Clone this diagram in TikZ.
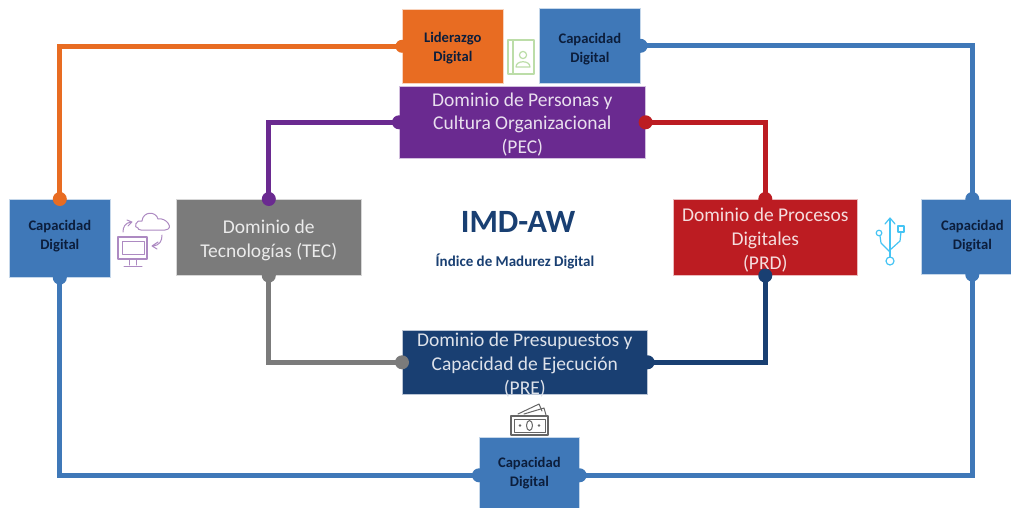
\documentclass[tikz,border=0pt]{standalone}
\usepackage{fontspec}
\setmainfont{Carlito}
\definecolor{cblue}{HTML}{3F78B8}
\definecolor{corange}{HTML}{E86C22}
\definecolor{cpurple}{HTML}{6A2A90}
\definecolor{cred}{HTML}{BC1C22}
\definecolor{cgray}{HTML}{7B7B7B}
\definecolor{cnavy}{HTML}{193F72}
\definecolor{ctext}{HTML}{0C1E3C}
\definecolor{cbook}{HTML}{BCDDA8}
\definecolor{cusb}{HTML}{45C4F4}
% #1 = downward shift of the text block, #2 = its lines; the block takes no height in the node
\newcommand\lines[2]{\raisebox{-#1pt}[0pt][0pt]{\begin{tabular}{@{}c@{}}#2\end{tabular}}}
\tikzset{
  pic box/.style={inner sep=0pt,anchor=north west,draw=white!70!#1,line width=.6pt,fill=#1},
  dombox/.style={pic box=#1,text=white!85!#1,font=\fontsize{19.5}{23.8}\selectfont},
  capbox/.style={pic box=#1,text=ctext,font=\fontsize{14.6}{18.3}\selectfont\bfseries},
  link/.style={line width=5pt},
  dot/.style={circle,inner sep=0pt,minimum size=14pt,fill=#1},
  ico/.style={line width=1pt,line join=round,line cap=round}
}
\begin{document}
\begin{tikzpicture}[x=1pt,y=-1pt]
\clip (0,0) rectangle (1011,508);
\fill[white] (0,0) rectangle (1011,508);
% boxes
\node[capbox=corange,minimum width=101pt,minimum height=74pt] (lider) at (402,9) {\lines{5.5}{Liderazgo\\Digital}};
\node[capbox=cblue,minimum width=101pt,minimum height=75pt] (capT) at (539,8) {\lines{7}{Capacidad\\Digital}};
\node[dombox=cpurple,minimum width=246pt,minimum height=72pt] (pec) at (399,86) {\lines{8}{Dominio de Personas y\\Cultura Organizacional\\(PEC)}};
\node[dombox=cgray,minimum width=185pt,minimum height=76pt] (tec) at (176,199) {\lines{9}{Dominio de\\Tecnologías (TEC)}};
\node[capbox=cblue,minimum width=101pt,minimum height=78pt] (capL) at (9,199) {\lines{1.6}{Capacidad\\Digital}};
\node[dombox=cred,minimum width=184pt,minimum height=76pt] (prd) at (673,199) {\lines{8.5}{Dominio de Procesos\\Digitales\\(PRD)}};
\node[capbox=cblue,minimum width=102pt,minimum height=75pt] (capR) at (921,199) {\lines{3}{Capacidad\\Digital}};
\node[dombox=cnavy,minimum width=245pt,minimum height=64pt] (pre) at (402,330) {\lines{8.5}{Dominio de Presupuestos y\\Capacidad de Ejecución\\(PRE)}};
\node[capbox=cblue,minimum width=100pt,minimum height=76pt] (capB) at (479,437) {\lines{1.6}{Capacidad\\Digital}};
% centre
\node[font=\fontsize{32.5}{34}\selectfont\bfseries,text=cnavy,inner sep=0pt] (title) at (518,222) {IMD-AW};
\node[font=\fontsize{15}{17}\selectfont\bfseries,text=cnavy,inner sep=0pt] (sub) at (515,261) {Índice de Madurez Digital};
% connectors
\draw[link,corange] (capL.north) |- (lider.west);
\draw[link,cblue] (capT.east) -| (capR.north);
\draw[link,cpurple] (pec.west) -| (tec.north);
\draw[link,cred] (pec.east) -| (prd.north);
\draw[link,cgray] (tec.south) |- (pre.west);
\draw[link,cnavy] (pre.east) -| (prd.south);
\draw[link,cblue] (capL.south) |- (capB.west);
\draw[link,cblue] (capB.east) -| (capR.south);
% dots
\node[dot=corange] (d1) at (capL.north) {};
\node[dot=corange,minimum size=13pt] (d2) at (lider.west) {};
\node[dot=cblue] (d3) at (capT.east) {};
\node[dot=cblue] (d4) at (capR.north) {};
\node[dot=cpurple] (d5) at (pec.west) {};
\node[dot=cpurple] (d6) at (tec.north) {};
\node[dot=cred] (d7) at (pec.east) {};
\node[dot=cred] (d8) at (prd.north) {};
\node[dot=cgray] (d9) at (tec.south) {};
\node[dot=cgray] (d10) at (pre.west) {};
\node[dot=cnavy] (d11) at (pre.east) {};
\node[dot=cnavy] (d12) at (prd.south) {};
\node[dot=cblue] (d13) at (capL.south) {};
\node[dot=cblue] (d14) at (capB.west) {};
\node[dot=cblue] (d15) at (capB.east) {};
\node[dot=cblue] (d16) at (capR.south) {};
% book icon
\begin{scope}[ico,draw=cbook,line width=1.2pt]
\draw (508,40) rectangle (534,74) (513,40) -- (513,74);
\draw (523,55) circle (3.6);
\draw (516,67) .. controls (516,60) and (530,60) .. (530,67) -- cycle;
\end{scope}
% cloud / computer icon
\begin{scope}[ico,draw=cpurple!55!white]
\draw (138,228) .. controls (133,228) and (136,219) .. (142,221) .. controls (143,211) and (156,211) .. (158,219) .. controls (166,217) and (175,229) .. (165,230) -- (141,230) .. controls (139,230) and (138,229) .. (138,228) -- cycle;
\draw[line width=1.4pt] (118,237) rectangle (147,259);
\draw (122,241) rectangle (144,254);
\draw (129,259) -- (129,265) (136,259) -- (136,265) (124,266) -- (142,266);
\draw (123,232) .. controls (123,227) and (125,223) .. (131,222) (127,220) -- (132,222) -- (128,226);
\draw (162,235) .. controls (162,241) and (160,245) .. (153,246) (158,242) -- (152,246) -- (157,249);
\end{scope}
% usb icon
\begin{scope}[ico,draw=cusb,line width=1.2pt]
\draw (890,219) -- (890,257);
\draw (885,224) -- (890,218) -- (895,224);
\draw (880,236) -- (881,243) -- (890,252);
\draw (901,232) -- (900,241) -- (890,250);
\draw (879,233) circle (2.8);
\draw (898,226) rectangle (904,232);
\draw (890,261) circle (4);
\end{scope}
% money icon
\begin{scope}[ico,draw=black!60]
\draw (518,414) -- (539,404) -- (542,411);
\draw (524,414) -- (544,408) -- (546,415);
\draw[line width=1.3pt] (511,416) rectangle (548,435);
\draw (514,419) rectangle (545,432);
\draw (529.5,425.5) ellipse (3 and 5);
\fill[black!60] (520,425.5) circle (1.3) (539,425.5) circle (1.3);
\end{scope}
\end{tikzpicture}
\end{document}
